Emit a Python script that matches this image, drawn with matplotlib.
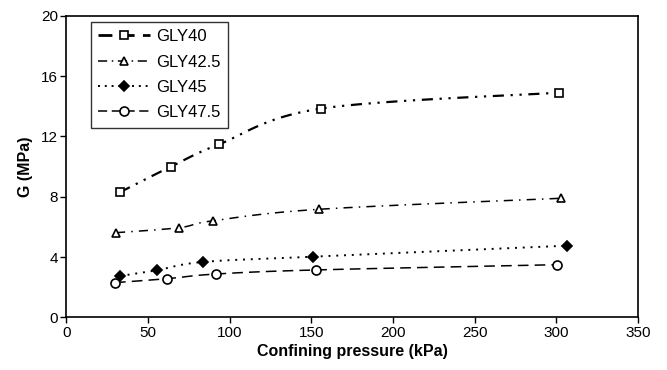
import matplotlib
matplotlib.use("Agg")
import matplotlib.pyplot as plt
import numpy as np

plt.rcParams["font.family"] = ["Liberation Sans", "DejaVu Sans"]

# data
names = ["GLY40", "GLY42.5", "GLY45", "GLY47.5"]
p_gly40 = [32.7, 64, 93.5, 155.6, 301.6]
g_gly40 = [8.3, 10.0, 11.48, 13.84, 14.9]
p_gly425 = [30.3, 68.8, 89.8, 154.7, 302.6]
g_gly425 = [5.62, 5.95, 6.41, 7.17, 7.9]
p_gly45 = [32.7, 55.2, 83.7, 151, 306.7]
g_gly45 = [2.75, 3.13, 3.68, 4.03, 4.76]
p_gly475 = [29.7, 61.3, 91.5, 152.5, 300.6]
g_gly475 = [2.31, 2.57, 2.88, 3.15, 3.5]

x_ticks = [0, 50, 100, 150, 200, 250, 300, 350]
y_ticks = [0, 4, 8, 12, 16, 20]


def smooth(x, y, n=30):
    # Catmull-Rom style curve through the points (like Excel smoothed lines)
    x = np.asarray(x, float)
    y = np.asarray(y, float)
    px = np.concatenate([[x[0]], x, [x[-1]]])
    py = np.concatenate([[y[0]], y, [y[-1]]])
    xs, ys = [], []
    t = np.linspace(0, 1, n)
    for i in range(1, len(px) - 2):
        p0, p1, p2, p3 = px[i - 1], px[i], px[i + 1], px[i + 2]
        q0, q1, q2, q3 = py[i - 1], py[i], py[i + 1], py[i + 2]
        m1x, m2x = (p2 - p0) / 6, (p3 - p1) / 6
        m1y, m2y = (q2 - q0) / 6, (q3 - q1) / 6
        bx = (1 - t) ** 3 * p1 + 3 * (1 - t) ** 2 * t * (p1 + m1x) + 3 * (1 - t) * t ** 2 * (p2 - m2x) + t ** 3 * p2
        by = (1 - t) ** 3 * q1 + 3 * (1 - t) ** 2 * t * (q1 + m1y) + 3 * (1 - t) * t ** 2 * (q2 - m2y) + t ** 3 * q2
        xs.extend(bx)
        ys.extend(by)
    return xs, ys


fig = plt.figure(figsize=(6.67, 3.7), dpi=100)
ax = fig.add_axes([0.0997, 0.1419, 0.8568, 0.8157])

series = [
    (p_gly40, g_gly40, (0, (5, 3, 1, 3, 1, 3)), 1.6, "s", "white"),
    (p_gly425, g_gly425, (0, (6, 4, 1, 4)), 1.1, "^", "white"),
    (p_gly45, g_gly45, (0, (1, 3)), 1.4, "D", "black"),
    (p_gly475, g_gly475, (0, (7, 4)), 1.1, "o", "white"),
]
legend_ls = [(0, (5, 3)), (0, (6, 3, 1, 3)), (0, (1, 2.5)), (0, (6, 3))]
legend_lw = [2.0, 1.1, 1.4, 1.1]
ms = [6, 6, 5, 6.5]

handles = []
for i, (x, y, ls, lw, mk, fc) in enumerate(series):
    sx, sy = smooth(x, y)
    ax.plot(sx, sy, color="black", linestyle=ls, linewidth=lw)
    ax.plot(x, y, linestyle="none", marker=mk, markersize=ms[i],
            markerfacecolor=fc, markeredgecolor="black", markeredgewidth=1.2)
    h, = ax.plot([], [], color="black", linestyle=legend_ls[i], linewidth=legend_lw[i],
                 marker=mk, markersize=ms[i], markerfacecolor=fc,
                 markeredgecolor="black", markeredgewidth=1.2, label=names[i])
    handles.append(h)

ax.set_xlim(0, 350)
ax.set_ylim(0, 20)
ax.set_xticks(x_ticks)
ax.set_yticks(y_ticks)
ax.tick_params(direction="out", length=4, width=1, labelsize=11, pad=2)
for s in ax.spines.values():
    s.set_linewidth(1.2)

ax.set_xlabel("Confining pressure (kPa)", fontsize=11.5, fontweight="bold", labelpad=3)
ax.set_ylabel("G (MPa)", fontsize=11.5, fontweight="bold", labelpad=6)

leg = ax.legend(handles=handles, loc="upper left", bbox_to_anchor=(0.042, 0.98),
                fontsize=12, frameon=True, fancybox=False, edgecolor="black",
                handlelength=3.1, handletextpad=0.4, borderpad=0.45,
                labelspacing=0.62, borderaxespad=0)
leg.get_frame().set_linewidth(1.0)

fig.savefig("out.png", dpi=100)
